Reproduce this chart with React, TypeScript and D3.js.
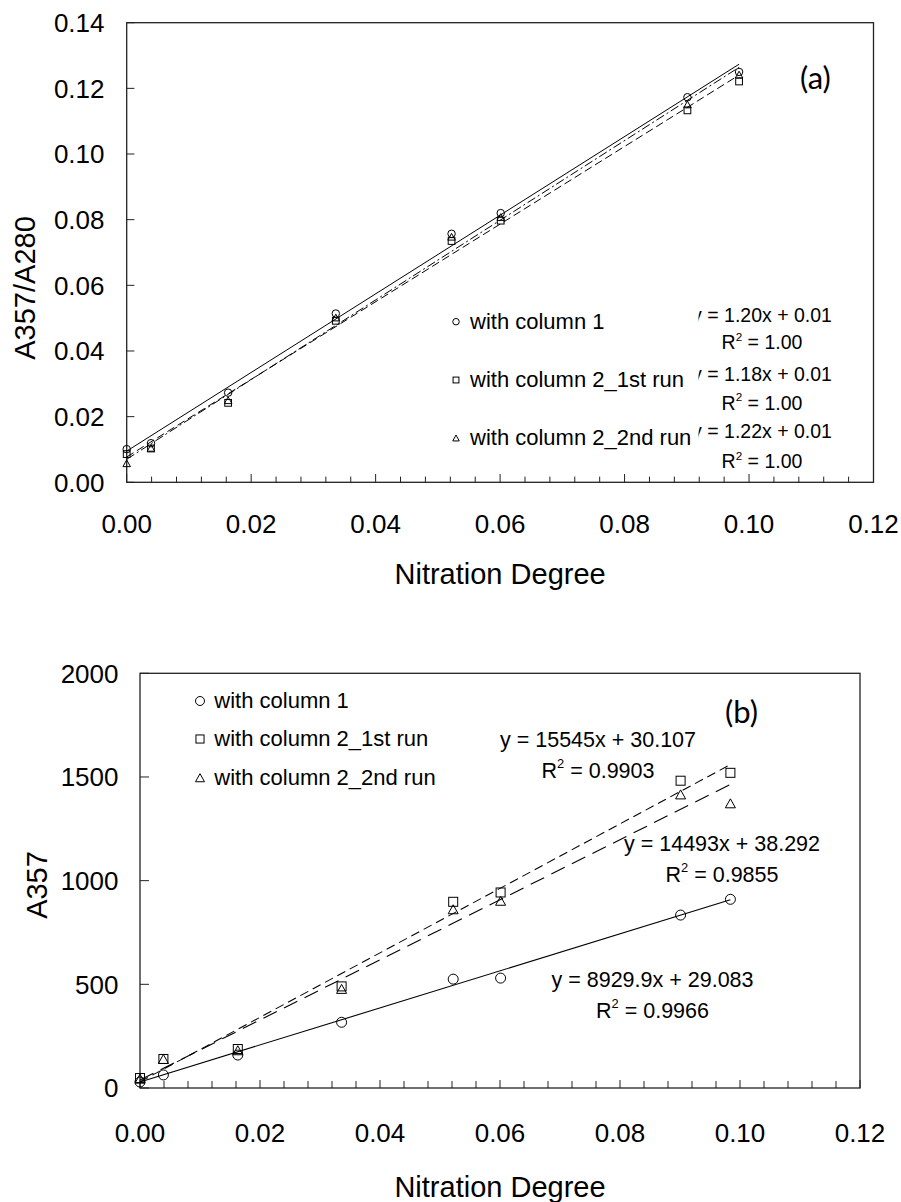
import React from 'react';
import * as d3 from 'd3';

// ---------- DATA ----------
const nitrationDegree = [0, 0.0039, 0.0163, 0.0336, 0.0522, 0.0601, 0.0901, 0.0984];

// Panel (a): A357/A280
const ratioColumn1 = [0.0101, 0.0119, 0.0273, 0.0514, 0.0757, 0.082, 0.1173, 0.125];
const ratioColumn2Run1 = [0.0086, 0.0103, 0.0242, 0.0492, 0.0735, 0.0797, 0.1133, 0.1221];
const ratioColumn2Run2 = [0.0058, 0.0105, 0.025, 0.0502, 0.0748, 0.0808, 0.1151, 0.1242];
const ratioEquations = ['y = 1.20x + 0.01', 'y = 1.18x + 0.01', 'y = 1.22x + 0.01'];
const ratioR2 = ['1.00', '1.00', '1.00'];

// Panel (b): A357
const a357Column1 = [29, 63, 159, 317, 525, 530, 834, 910];
const a357Column2Run1 = [48, 140, 188, 490, 898, 943, 1482, 1520];
const a357Column2Run2 = [45, 140, 182, 478, 862, 903, 1416, 1373];
const a357Slopes = [8929.9, 15545, 14493];
const a357Intercepts = [29.083, 30.107, 38.292];
const a357Equations = ['y = 8929.9x + 29.083', 'y = 15545x + 30.107', 'y = 14493x + 38.292'];
const a357R2 = ['0.9966', '0.9903', '0.9855'];

const seriesNames = ['with column 1', 'with column 2_1st run', 'with column 2_2nd run'];
const xTicks = [0, 0.02, 0.04, 0.06, 0.08, 0.1, 0.12];
const ratioTicks = [0, 0.02, 0.04, 0.06, 0.08, 0.1, 0.12, 0.14];
const a357Ticks = [0, 500, 1000, 1500, 2000];

// ---------- HELPERS ----------
const FONT = '"Liberation Sans", Arial, Helvetica, sans-serif';
const markerKinds = ['circle', 'square', 'triangle'];

function fitLine(xs: number[], ys: number[]) {
  const mx = d3.mean(xs) as number;
  const my = d3.mean(ys) as number;
  let sxy = 0;
  let sxx = 0;
  xs.forEach((x, i) => {
    sxy += (x - mx) * (ys[i] - my);
    sxx += (x - mx) * (x - mx);
  });
  const slope = sxy / sxx;
  return { slope, intercept: my - slope * mx };
}

function Marker({ kind, x, y, size }: { kind: string; x: number; y: number; size: number }) {
  if (kind === 'circle') {
    return <circle cx={x} cy={y} r={size / 2} fill="none" stroke="#000" strokeWidth={1} />;
  }
  if (kind === 'square') {
    const s = size * 0.9;
    return <rect x={x - s / 2} y={y - s / 2} width={s} height={s} fill="none" stroke="#000" strokeWidth={1} />;
  }
  const w = size;
  const h = size * 0.9;
  return (
    <path
      d={`M${x},${y - h / 2}L${x + w / 2},${y + h / 2}L${x - w / 2},${y + h / 2}Z`}
      fill="none"
      stroke="#000"
      strokeWidth={1}
    />
  );
}

function RText({ x, y, value, size, anchor = 'middle' }: { x: number; y: number; value: string; size: number; anchor?: string }) {
  return (
    <text x={x} y={y} fontSize={size} fontFamily={FONT} textAnchor={anchor as any} fill="#000">
      R
      <tspan fontSize={size * 0.6} dy={-size * 0.45}>2</tspan>
      <tspan dy={size * 0.45}>{` = ${value}`}</tspan>
    </text>
  );
}

function Axes({
  x,
  y,
  yTicks,
  yFormat,
  yLabelRight,
  xLabelBaseline,
  titleBaseline,
  yTitle,
  yTitleX,
  yTitleY,
  xMajorLen,
  xMinorLen,
  yTickLen,
}: any) {
  const [x0, x1] = x.range();
  const [yb, yt] = y.range();
  const minor = d3.range(0, 0.12 + 1e-9, 0.004);
  return (
    <g>
      <rect x={x0} y={yt} width={x1 - x0} height={yb - yt} fill="none" stroke="#222" strokeWidth={1.3} />
      {minor.map((t, i) => {
        const major = i % 5 === 0;
        return (
          <line
            key={'xm' + i}
            x1={x(t)}
            x2={x(t)}
            y1={yb}
            y2={yb - (major ? xMajorLen : xMinorLen)}
            stroke="#222"
            strokeWidth={1}
          />
        );
      })}
      {yTicks.map((t: number, i: number) => (
        <line key={'yt' + i} x1={x0} x2={x0 + yTickLen} y1={y(t)} y2={y(t)} stroke="#222" strokeWidth={1} />
      ))}
      {xTicks.map((t, i) => (
        <text key={'xl' + i} x={x(t)} y={xLabelBaseline} fontSize={26} fontFamily={FONT} textAnchor="middle" fill="#000">
          {d3.format('.2f')(t)}
        </text>
      ))}
      {yTicks.map((t: number, i: number) => (
        <text
          key={'yl' + i}
          x={yLabelRight}
          y={y(t)}
          dy="0.36em"
          fontSize={26}
          fontFamily={FONT}
          textAnchor="end"
          fill="#000"
        >
          {yFormat(t)}
        </text>
      ))}
      <text x={(x0 + x1) / 2} y={titleBaseline} fontSize={29} fontFamily={FONT} textAnchor="middle" fill="#000">
        Nitration Degree
      </text>
      <text
        transform={`translate(${yTitleX},${yTitleY}) rotate(-90)`}
        fontSize={29}
        fontFamily={FONT}
        textAnchor="middle"
        fill="#000"
      >
        {yTitle}
      </text>
    </g>
  );
}

function PanelA() {
  const x = d3.scaleLinear().domain([0, 0.12]).range([126.7, 873.5]);
  const y = d3.scaleLinear().domain([0, 0.14]).range([482.3, 22.7]);
  const series = [ratioColumn1, ratioColumn2Run1, ratioColumn2Run2];
  const dashes = ['none', '8,4', '9,3,2,3'];
  const xMax = d3.max(nitrationDegree) as number;
  const line = d3
    .line<[number, number]>()
    .x((d) => x(d[0]))
    .y((d) => y(d[1]));
  const eqBase = [321.7, 380.7, 438.3];
  const r2Base = [349.3, 410, 468.3];
  const legY = [321.7, 380, 438];
  return (
    <g>
      <Axes
        x={x}
        y={y}
        yTicks={ratioTicks}
        yFormat={d3.format('.2f')}
        yLabelRight={104.5}
        xLabelBaseline={532.7}
        titleBaseline={584.3}
        yTitle="A357/A280"
        yTitleX={35}
        yTitleY={288}
        xMajorLen={8.3}
        xMinorLen={5.7}
        yTickLen={7.7}
      />
      {series.map((ys, si) => {
        const f = fitLine(nitrationDegree, ys);
        const pts: [number, number][] = [
          [0, f.intercept],
          [xMax, f.intercept + f.slope * xMax],
        ];
        return (
          <path
            key={'l' + si}
            d={line(pts) as string}
            fill="none"
            stroke="#000"
            strokeWidth={1}
            strokeDasharray={dashes[si]}
          />
        );
      })}
      {series.map((ys, si) =>
        ys.map((v, i) => <Marker key={`m${si}-${i}`} kind={markerKinds[si]} x={x(nitrationDegree[i])} y={y(v)} size={7.5} />)
      )}
      {ratioEquations.map((eq, i) => (
        <g key={'eq' + i}>
          <text x={762} y={eqBase[i]} fontSize={19.5} fontFamily={FONT} textAnchor="middle" fill="#000">
            {eq}
          </text>
          <RText x={762} y={r2Base[i]} value={ratioR2[i]} size={19.5} />
        </g>
      ))}
      <rect x={440} y={292} width={258.5} height={178} fill="#fff" />
      {seriesNames.map((name, i) => (
        <g key={'lg' + i}>
          <Marker kind={markerKinds[i]} x={456} y={legY[i]} size={6.5} />
          <text x={470} y={legY[i] + 7} fontSize={22} fontFamily={FONT} fill="#000">
            {name}
          </text>
        </g>
      ))}
      <text x={800} y={89} fontSize={31} fontFamily='Lato, "Open Sans", sans-serif' fill="#000">
        (a)
      </text>
    </g>
  );
}

function PanelB() {
  const x = d3.scaleLinear().domain([0, 0.12]).range([140, 860]);
  const y = d3.scaleLinear().domain([0, 2000]).range([1088, 673.3]);
  const series = [a357Column1, a357Column2Run1, a357Column2Run2];
  const dashes = ['none', '9,5', '15,8'];
  const xMax = d3.max(nitrationDegree) as number;
  const line = d3
    .line<[number, number]>()
    .x((d) => x(d[0]))
    .y((d) => y(d[1]));
  const eqPos = [
    { x: 652.5, eq: 986.7, r2: 1017.7 },
    { x: 598, eq: 747, r2: 777.7 },
    { x: 722, eq: 851, r2: 881.7 },
  ];
  const legY = [701, 739, 777.7];
  return (
    <g>
      <Axes
        x={x}
        y={y}
        yTicks={a357Ticks}
        yFormat={d3.format('d')}
        yLabelRight={118.5}
        xLabelBaseline={1142}
        titleBaseline={1197}
        yTitle="A357"
        yTitleX={47}
        yTitleY={885}
        xMajorLen={8}
        xMinorLen={7}
        yTickLen={9}
      />
      {series.map((ys, si) => {
        const pts: [number, number][] = [
          [0, a357Intercepts[si]],
          [xMax, a357Intercepts[si] + a357Slopes[si] * xMax],
        ];
        return (
          <path
            key={'l' + si}
            d={line(pts) as string}
            fill="none"
            stroke="#000"
            strokeWidth={1.1}
            strokeDasharray={dashes[si]}
          />
        );
      })}
      {series.map((ys, si) =>
        ys.map((v, i) => <Marker key={`m${si}-${i}`} kind={markerKinds[si]} x={x(nitrationDegree[i])} y={y(v)} size={10} />)
      )}
      {a357Equations.map((eq, i) => (
        <g key={'eq' + i}>
          <text x={eqPos[i].x} y={eqPos[i].eq} fontSize={21.5} fontFamily={FONT} textAnchor="middle" fill="#000">
            {eq}
          </text>
          <RText x={eqPos[i].x} y={eqPos[i].r2} value={a357R2[i]} size={21.5} />
        </g>
      ))}
      {seriesNames.map((name, i) => (
        <g key={'lg' + i}>
          <Marker kind={markerKinds[i]} x={200} y={legY[i]} size={9} />
          <text x={214.3} y={legY[i] + 7.3} fontSize={22} fontFamily={FONT} fill="#000">
            {name}
          </text>
        </g>
      ))}
      <text x={725} y={723} fontSize={31} fontFamily='Lato, "Open Sans", sans-serif' fill="#000">
        (b)
      </text>
    </g>
  );
}

export default function App() {
  return (
    <svg
      width={901}
      height={1202}
      viewBox="0 0 901 1202"
      style={{ position: 'absolute', left: 0, top: 0, background: '#fff' }}
    >
      <rect x={0} y={0} width={901} height={1202} fill="#fff" />
      <PanelA />
      <PanelB />
    </svg>
  );
}
